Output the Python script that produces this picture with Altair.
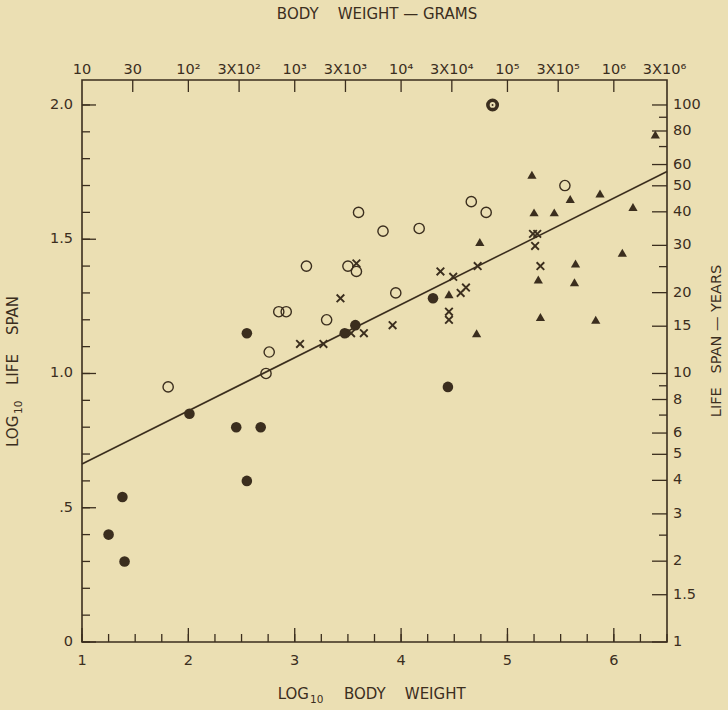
import math

import altair as alt
import pandas as pd

INK = "#3b2e1e"
PAPER = "#ebdfb3"
FONT = "DejaVu Sans"

# plot frame (pixels) and data domains
W, H = 585, 562
X_DOM = [1.0, 6.5]
Y_DOM = [0.0, 2.093]

# --- observations: log10 body weight (g) vs log10 life span (yr) ---
filled_x = [1.25, 1.38, 1.40, 2.01, 2.45, 2.55, 2.55, 2.68, 3.47, 3.57, 4.30, 4.44]
filled_y = [0.40, 0.54, 0.30, 0.85, 0.80, 1.15, 0.60, 0.80, 1.15, 1.18, 1.28, 0.95]

open_x = [1.81, 2.73, 2.76, 2.85, 2.92, 3.11, 3.30, 3.50, 3.58, 3.60, 3.83, 3.95,
          4.17, 4.66, 4.80, 5.54]
open_y = [0.95, 1.00, 1.08, 1.23, 1.23, 1.40, 1.20, 1.40, 1.38, 1.60, 1.53, 1.30,
          1.54, 1.64, 1.60, 1.70]

cross_x = [3.05, 3.27, 3.43, 3.53, 3.58, 3.65, 3.92, 4.37, 4.45, 4.45, 4.49, 4.56,
           4.61, 4.72, 5.24, 5.28, 5.26, 5.31]
cross_y = [1.11, 1.11, 1.28, 1.15, 1.41, 1.15, 1.18, 1.38, 1.23, 1.20, 1.36, 1.30,
           1.32, 1.40, 1.52, 1.52, 1.475, 1.40]

tri_x = [4.45, 4.71, 4.74, 5.23, 5.25, 5.44, 5.59, 5.87, 6.18, 6.39, 5.29, 5.63,
         5.64, 6.08, 5.31, 5.83]
tri_y = [1.295, 1.15, 1.49, 1.74, 1.60, 1.60, 1.65, 1.67, 1.62, 1.89, 1.35, 1.34,
         1.41, 1.45, 1.21, 1.20]

special_x = [4.86]
special_y = [2.00]

# fitted regression line
fit_x = [1.0, 6.5]
fit_y = [0.663, 1.752]

# --- axis furniture ---
left_minor = [round(i * 0.1, 1) for i in range(21)]
left_major = [0.0, 0.5, 1.0, 1.5, 2.0]
left_labels = ["0", ".5", "1.0", "1.5", "2.0"]

bottom_minor = [1 + i * 0.25 for i in range(23)]
bottom_major = [1, 2, 3, 4, 5, 6]
bottom_labels = ["1", "2", "3", "4", "5", "6"]

top_vals = [1.0, 1.477, 2.0, 2.477, 3.0, 3.477, 4.0, 4.477, 5.0, 5.477, 6.0, 6.477]
top_labels = ["10", "30", "10²", "3X10²", "10³", "3X10³", "10⁴", "3X10⁴",
              "10⁵", "3X10⁵", "10⁶", "3X10⁶"]

years_labeled = [1, 1.5, 2, 3, 4, 5, 6, 8, 10, 15, 20, 30, 40, 50, 60, 80, 100]
years_labels = ["1", "1.5", "2", "3", "4", "5", "6", "8", "10", "15", "20", "30",
                "40", "50", "60", "80", "100"]
years_minor = [2.5, 7, 9, 25, 70, 90]

xs = alt.Scale(domain=X_DOM, nice=False, zero=False)
ys = alt.Scale(domain=Y_DOM, nice=False, zero=False)

TICK_FS = 14.5
TITLE_FS = 15
SUB_FS = 10.5


def pts(xv, yv):
    return pd.DataFrame({"x": xv, "y": yv})


def enc(chart):
    return chart.encode(
        x=alt.X("x:Q", scale=xs, axis=None),
        y=alt.Y("y:Q", scale=ys, axis=None),
    )


def label(txt, px, py, size, align="center", angle=0):
    return alt.Chart(pd.DataFrame({"t": [txt]})).mark_text(
        color=INK, font=FONT, fontSize=size, align=align, baseline="middle",
        angle=angle).encode(x=alt.value(px), y=alt.value(py), text="t:N")


layers = []

# regression line
layers.append(enc(alt.Chart(pts(fit_x, fit_y)).mark_line(color=INK, strokeWidth=1.6)))

# markers
layers.append(enc(alt.Chart(pts(filled_x, filled_y)).mark_point(
    shape="circle", filled=True, size=112, color=INK, opacity=1)))
layers.append(enc(alt.Chart(pts(open_x, open_y)).mark_point(
    shape="circle", filled=False, size=105, color=INK, strokeWidth=1.4, opacity=1)))
layers.append(enc(alt.Chart(pts(cross_x, cross_y)).mark_point(
    shape="M-1,-1L1,1M-1,1L1,-1", filled=False, size=58, color=INK,
    strokeWidth=1.9, opacity=1)))
layers.append(enc(alt.Chart(pts(tri_x, tri_y)).mark_point(
    shape="triangle-up", filled=True, size=85, color=INK, opacity=1)))
layers.append(enc(alt.Chart(pts(special_x, special_y)).mark_point(
    shape="circle", filled=False, size=88, color=INK, strokeWidth=3.6, opacity=1)))
layers.append(enc(alt.Chart(pts(special_x, special_y)).mark_point(
    shape="circle", filled=True, size=4, color=INK, opacity=1)))

# left axis ticks (pointing inward) and labels
layers.append(alt.Chart(pd.DataFrame({"y": left_minor})).mark_rule(
    color=INK, strokeWidth=1.3).encode(
    y=alt.Y("y:Q", scale=ys, axis=None), x=alt.value(0), x2=alt.value(8)))
layers.append(alt.Chart(pd.DataFrame({"y": left_major})).mark_rule(
    color=INK, strokeWidth=1.3).encode(
    y=alt.Y("y:Q", scale=ys, axis=None), x=alt.value(0), x2=alt.value(14)))
layers.append(alt.Chart(pd.DataFrame({"y": left_major, "t": left_labels})).mark_text(
    color=INK, font=FONT, fontSize=TICK_FS, align="right", baseline="middle").encode(
    y=alt.Y("y:Q", scale=ys, axis=None), x=alt.value(-9), text="t:N"))

# bottom axis ticks and labels
layers.append(alt.Chart(pd.DataFrame({"x": bottom_minor})).mark_rule(
    color=INK, strokeWidth=1.3).encode(
    x=alt.X("x:Q", scale=xs, axis=None), y=alt.value(H), y2=alt.value(H - 8)))
layers.append(alt.Chart(pd.DataFrame({"x": bottom_major})).mark_rule(
    color=INK, strokeWidth=1.3).encode(
    x=alt.X("x:Q", scale=xs, axis=None), y=alt.value(H), y2=alt.value(H - 14)))
layers.append(alt.Chart(pd.DataFrame({"x": bottom_major, "t": bottom_labels})).mark_text(
    color=INK, font=FONT, fontSize=TICK_FS, align="center", baseline="middle").encode(
    x=alt.X("x:Q", scale=xs, axis=None), y=alt.value(H + 19), text="t:N"))

# top axis: body weight in grams
layers.append(alt.Chart(pd.DataFrame({"x": top_vals[1:-1]})).mark_rule(
    color=INK, strokeWidth=1.3).encode(
    x=alt.X("x:Q", scale=xs, axis=None), y=alt.value(0), y2=alt.value(12)))
layers.append(alt.Chart(pd.DataFrame({"x": top_vals, "t": top_labels})).mark_text(
    color=INK, font=FONT, fontSize=TICK_FS, align="center", baseline="alphabetic").encode(
    x=alt.X("x:Q", scale=xs, axis=None), y=alt.value(-6), text="t:N"))

# right axis: life span in years
yl = pd.DataFrame({"y": [math.log10(v) for v in years_labeled], "t": years_labels})
ym = pd.DataFrame({"y": [math.log10(v) for v in years_minor]})
layers.append(alt.Chart(yl).mark_rule(color=INK, strokeWidth=1.3).encode(
    y=alt.Y("y:Q", scale=ys, axis=None), x=alt.value(W), x2=alt.value(W - 15)))
layers.append(alt.Chart(ym).mark_rule(color=INK, strokeWidth=1.3).encode(
    y=alt.Y("y:Q", scale=ys, axis=None), x=alt.value(W), x2=alt.value(W - 8)))
layers.append(alt.Chart(yl).mark_text(
    color=INK, font=FONT, fontSize=TICK_FS, align="left", baseline="middle").encode(
    y=alt.Y("y:Q", scale=ys, axis=None), x=alt.value(W + 6), text="t:N"))

# axis titles
NB = "\u00a0"
layers.append(label("BODY" + NB * 4 + "WEIGHT" + NB + "—" + NB + "GRAMS",
                    295, -66, TITLE_FS))
layers.append(label("LIFE" + NB * 3 + "SPAN" + NB + "—" + NB + "YEARS",
                    635, 261, 14.5, angle=270))

# bottom title with subscript
layers.append(label("LOG", 227, 614, TITLE_FS, align="right"))
layers.append(label("10", 228, 620, SUB_FS, align="left"))
layers.append(label("BODY" + NB * 4 + "WEIGHT", 262, 614, TITLE_FS, align="left"))

# left title (rotated) with subscript
layers.append(label("LOG", -69, 367, TITLE_FS, align="left", angle=270))
layers.append(label("10", -63, 334, SUB_FS, align="left", angle=270))
layers.append(label("LIFE" + NB * 4 + "SPAN", -69, 305, TITLE_FS, align="left", angle=270))

chart = alt.layer(*layers).properties(
    width=W, height=H,
    autosize=alt.AutoSizeParams(type="none"),
    padding={"left": 82, "top": 80, "right": 61, "bottom": 68},
    background=PAPER,
).configure_view(stroke=INK, strokeWidth=1.6)

chart.save("out.html", embed_options={"renderer": "svg", "actions": False})
